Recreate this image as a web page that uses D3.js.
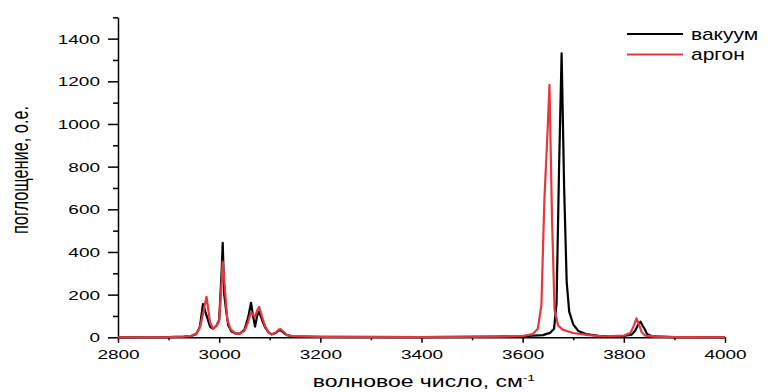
<!DOCTYPE html>
<html>
<head>
<meta charset="utf-8">
<script src="https://cdn.jsdelivr.net/npm/d3@7"></script>
<style>
  body { margin: 0; background: #fff; }
  text { font-family: Arial, "Liberation Sans", sans-serif; fill: #000; }
</style>
</head>
<body>
<svg id="chart" width="773" height="392"></svg>
<script>
// spectra: [wavenumber, absorbance]
var vacuum = [
  [2800,0],[2900,1],[2930,3],[2945,6],[2955,16],[2962,50],[2968,156],[2974,110],[2982,50],[2988,39],
  [2995,55],[3000,81],[3005,316],[3007,443],[3010,200],[3014,122],[3018,55],[3024,28],[3032,18],[3040,16],
  [3050,35],[3057,90],[3063,162],[3067,100],[3071,50],[3075,100],[3079,120],[3085,80],[3091,45],[3098,22],
  [3104,14],[3112,20],[3118,32],[3122,32],[3128,20],[3134,10],[3145,5],[3200,2],[3400,1],[3550,3],
  [3600,5],[3640,10],[3655,22],[3662,40],[3667,160],[3672,800],[3677,1331],[3682,700],[3687,260],[3692,120],
  [3700,60],[3710,30],[3725,15],[3750,7],[3780,4],[3800,6],[3815,12],[3822,30],[3828,58],[3833,73],
  [3837,55],[3841,40],[3846,15],[3856,4],[3900,1],[4000,0]
];
var argon = [
  [2800,0],[2900,1],[2930,3],[2945,7],[2955,18],[2962,45],[2968,110],[2975,190],[2982,70],[2988,40],
  [2995,55],[3000,80],[3004,220],[3007,355],[3011,240],[3016,85],[3022,40],[3030,22],[3040,16],[3050,30],
  [3057,70],[3063,118],[3067,105],[3071,97],[3075,125],[3079,143],[3085,95],[3091,50],[3098,22],[3104,14],
  [3112,22],[3118,37],[3122,38],[3128,25],[3134,11],[3145,5],[3200,2],[3400,1],[3550,3],[3600,6],
  [3620,15],[3630,40],[3637,150],[3643,650],[3648,900],[3653,1183],[3658,560],[3663,130],[3670,55],[3680,35],
  [3700,20],[3730,10],[3760,5],[3800,8],[3813,20],[3819,50],[3825,89],[3830,60],[3835,25],[3842,8],
  [3860,3],[3900,1],[4000,0]
];
var seriesNames = ["вакуум", "аргон"];
var seriesColors = ["#000000", "#e8373c"];
var xMajor = [2800, 3000, 3200, 3400, 3600, 3800, 4000];
var xMinor = [2900, 3100, 3300, 3500, 3700, 3900];
var yMajor = [0, 200, 400, 600, 800, 1000, 1200, 1400];
var yMinor = [100, 300, 500, 700, 900, 1100, 1300, 1500];

var sq = 0.68; // the picture is squashed vertically

var svg = d3.select("#chart");
var x = d3.scaleLinear().domain([2800, 4000]).range([118, 725]);
var y = d3.scaleLinear().domain([0, 1500]).range([337.3, 17.3]);

//minor ticks
svg.append("g")
  .attr("transform", "translate(0," + y(0) + ")")
  .call(d3.axisBottom(x).tickValues(xMinor).tickSize(3).tickFormat(""))
  .call(function(g){ g.select(".domain").remove(); });
svg.append("g")
  .attr("transform", "translate(" + x(2800) + ",0)")
  .call(d3.axisLeft(y).tickValues(yMinor).tickSize(5).tickFormat(""))
  .call(function(g){ g.select(".domain").remove(); });

//major axes
var gx = svg.append("g")
  .attr("transform", "translate(0," + y(0) + ")")
  .call(d3.axisBottom(x).tickValues(xMajor).tickSize(5.5).tickSizeOuter(0).tickFormat(d3.format("d")));
gx.selectAll("text")
  .attr("y", 21.5 / sq).attr("dy", null)
  .attr("transform", "scale(1," + sq + ")")
  .style("font-size", "19px");

var gy = svg.append("g")
  .attr("transform", "translate(" + x(2800) + ",0)")
  .call(d3.axisLeft(y).tickValues(yMajor).tickSize(10).tickSizeOuter(0).tickFormat(d3.format("d")));
gy.selectAll("text")
  .attr("x", -18).attr("dy", "0.35em")
  .attr("transform", "scale(1," + sq + ")")
  .style("font-size", "19px");

svg.selectAll(".domain").attr("stroke-width", 1.5);
svg.selectAll(".tick line").attr("stroke-width", 1.5);

//lines
var line = d3.line()
  .x(function(d){ return x(d[0]); })
  .y(function(d){ return y(d[1]); });

[vacuum, argon].forEach(function(s, i){
  svg.append("path")
    .datum(s)
    .attr("d", line)
    .attr("fill", "none")
    .attr("stroke", seriesColors[i])
    .attr("stroke-width", 2.2)
    .attr("stroke-linejoin", "round");
});

//legend
seriesNames.forEach(function(name, i){
  var ly = 34 + i * 20.5;
  svg.append("line")
    .attr("x1", 627).attr("x2", 683)
    .attr("y1", ly).attr("y2", ly)
    .attr("stroke", seriesColors[i]).attr("stroke-width", 2);
  svg.append("text")
    .attr("transform", "translate(691," + (ly + 5.5) + ") scale(1,0.8)")
    .style("font-size", "21px")
    .text(name);
});

//titles
var xt = svg.append("text")
  .attr("transform", "translate(424,387) scale(1," + sq + ")")
  .attr("text-anchor", "middle")
  .style("font-size", "23px");
xt.append("tspan").text("волновое число, см");
xt.append("tspan").attr("dy", "-0.6em").style("font-size", "14px").text("-1");

svg.append("text")
  .attr("transform", "translate(28,170) scale(1," + sq + ") rotate(-90)")
  .attr("text-anchor", "middle")
  .style("font-size", "24px")
  .text("поглощение, о.е.");
</script>
</body>
</html>
